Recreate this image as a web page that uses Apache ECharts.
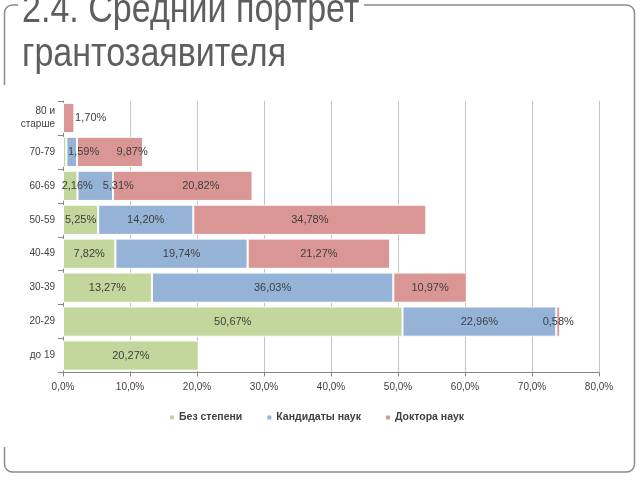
<!DOCTYPE html>
<html>
<head>
<meta charset="utf-8">
<script src="https://cdn.jsdelivr.net/npm/echarts@6/dist/echarts.min.js"></script>
<style>html,body{margin:0;padding:0;background:#fff}#c{width:640px;height:480px}</style>
</head>
<body>
<div id="c"></div>
<script>
const categories = ['до 19', '20-29', '30-39', '40-49', '50-59', '60-69', '70-79', '80 и\nстарше'];
const noDegree   = [20.27, 50.67, 13.27, 7.82, 5.25, 2.16, 0.5, 0];
const candidates = [0, 22.96, 36.03, 19.74, 14.20, 5.31, 1.59, 0];
const doctors    = [0, 0.58, 10.97, 21.27, 34.78, 20.82, 9.87, 1.70];
const seriesNames = ['Без степени', 'Кандидаты наук', 'Доктора наук'];
const xTicks = [0, 10, 20, 30, 40, 50, 60, 70, 80];
const titleLines = ['2.4. Средний портрет', 'грантозаявителя'];

// label horizontal shifts (style only), per category index and series index
const labelShift = {5: [7, 23, 18], 6: [0, 12, 22], 7: [0, 0, 22]};

const colors = ['#c3d69b', '#95b3d7', '#d99694'];
const fmt = v => v.toFixed(2).replace('.', ',') + '%';

function buildSeries(values, si) {
  return {
    name: seriesNames[si],
    type: 'bar',
    stack: 'total',
    barCategoryGap: '11%',
    itemStyle: {color: colors[si], borderColor: '#fff', borderWidth: 1},
    data: values.map((v, ci) => ({
      value: v,
      label: {
        show: v >= 0.55,
        offset: [labelShift[ci] ? labelShift[ci][si] : 0, 0]
      }
    })),
    label: {
      position: 'inside',
      color: '#404040',
      fontFamily: 'Liberation Sans',
      fontSize: 11,
      formatter: p => fmt(p.value)
    }
  };
}

const chart = echarts.init(document.getElementById('c'), null, {renderer: 'canvas'});
chart.setOption({
  animation: false,
  backgroundColor: '#fff',
  color: colors,
  grid: {left: 63, right: 41, top: 101, bottom: 107.5, containLabel: false},
  legend: {
    left: 168, top: 412, padding: 0,
    itemWidth: 6, itemHeight: 6, itemGap: 23,
    icon: 'rect',
    textStyle: {color: '#404040', fontFamily: 'Liberation Sans', fontSize: 10.5, fontWeight: 'bold', padding: [0, 0, 0, -1]},
    data: seriesNames
  },
  xAxis: {
    type: 'value',
    min: xTicks[0], max: xTicks[xTicks.length - 1], interval: 10,
    axisLine: {show: true, lineStyle: {color: '#868686'}},
    axisTick: {show: true, length: 4, lineStyle: {color: '#868686'}},
    splitLine: {show: true, lineStyle: {color: '#c4c4c4'}},
    axisLabel: {color: '#404040', fontFamily: 'Liberation Sans', fontSize: 10, margin: 10,
      formatter: v => v.toFixed(1).replace('.', ',') + '%'}
  },
  yAxis: {
    type: 'category',
    data: categories,
    axisLine: {show: true, lineStyle: {color: '#868686'}},
    axisTick: {show: true, length: 5, lineStyle: {color: '#868686'}},
    axisLabel: {color: '#404040', fontFamily: 'Liberation Sans', fontSize: 10, margin: 8, lineHeight: 13, align: 'right'}
  },
  series: [buildSeries(noDegree, 0), buildSeries(candidates, 1), buildSeries(doctors, 2)],
  graphic: [
    {type: 'rect', z: 0, silent: true,
      shape: {x: 4.5, y: 5, width: 630, height: 467, r: 8},
      style: {fill: 'none', stroke: '#8a8a8a', lineWidth: 1.5}},
    {type: 'rect', z: 1, silent: true,
      shape: {x: 0, y: 85, width: 12, height: 362},
      style: {fill: '#fff'}},
    {type: 'rect', z: 1, silent: true,
      shape: {x: 18, y: 0, width: 346, height: 12},
      style: {fill: '#fff'}},
    {type: 'text', z: 2, silent: true, x: 22, y: -10, scaleX: 0.83,
      style: {x: 0, y: 0, text: titleLines[0], fill: '#5e5e5e', font: '41px "Liberation Sans"', verticalAlign: 'top'}},
    {type: 'text', z: 2, silent: true, x: 22, y: 34, scaleX: 0.83,
      style: {x: 0, y: 0, text: titleLines[1], fill: '#5e5e5e', font: '41px "Liberation Sans"', verticalAlign: 'top'}}
  ]
});
</script>
</body>
</html>
